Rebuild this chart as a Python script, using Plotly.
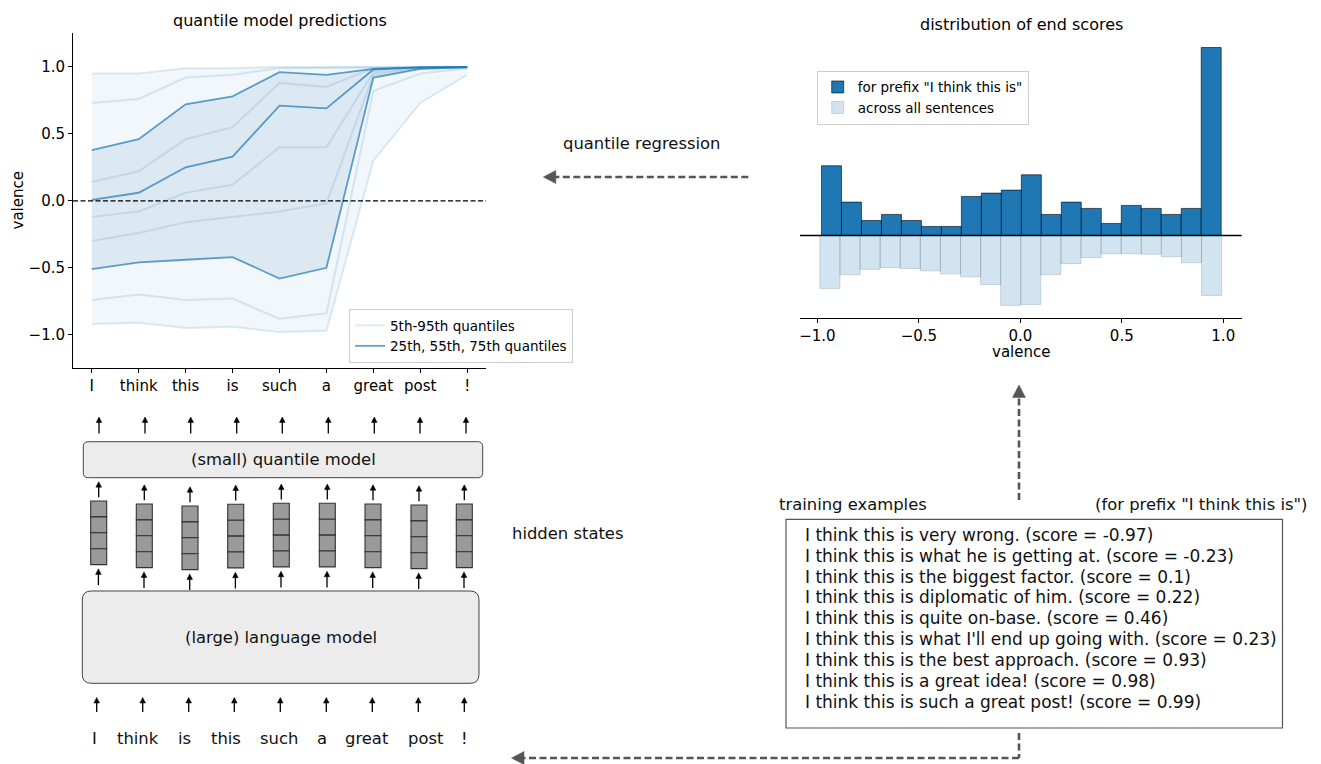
import numpy as np
import plotly.graph_objects as go

W, H = 1321, 764
FONT = "DejaVu Sans"


def X(p):
    return p / W


def Y(p):
    return 1 - p / H


# ---------------- data ----------------
tokens = ["I", "think", "this", "is", "such", "a", "great", "post", "!"]

q05 = [-0.92, -0.91, -0.95, -0.94, -0.98, -0.97, 0.30, 0.73, 0.94]
q15 = [-0.74, -0.70, -0.74, -0.73, -0.88, -0.84, 0.82, 0.95, 0.99]
q25 = [-0.51, -0.46, -0.44, -0.42, -0.58, -0.50, 0.92, 0.985, 0.995]
q35 = [-0.30, -0.24, -0.16, -0.12, -0.08, -0.02, 0.94, 0.99, 0.995]
q45 = [-0.12, -0.08, 0.06, 0.12, 0.40, 0.40, 0.96, 0.99, 0.997]
q55 = [0.007, 0.06, 0.25, 0.33, 0.71, 0.69, 0.98, 0.995, 0.997]
q65 = [0.14, 0.22, 0.46, 0.55, 0.88, 0.85, 0.99, 0.997, 0.998]
q75 = [0.378, 0.46, 0.72, 0.78, 0.96, 0.94, 0.985, 0.996, 1.0]
q85 = [0.73, 0.76, 0.92, 0.94, 0.99, 0.99, 0.995, 0.998, 1.0]
q95 = [0.95, 0.95, 0.99, 0.99, 0.999, 1.0, 1.0, 1.0, 1.0]

# histogram of end scores (20 bins)
prefix_bin_range = (-0.98, 0.99)
prefix_heights = [23.2, 11.1, 5.0, 7.0, 5.0, 3.0, 3.0, 13.0, 14.1, 15.1,
                  20.2, 7.0, 11.1, 9.0, 4.0, 10.0, 9.0, 7.0, 9.0, 62.6]
all_bin_range = (-0.988, 0.992)
all_heights = [17.7, 13.1, 11.3, 10.7, 11.0, 11.8, 12.8, 13.8, 16.4, 23.3,
               23.0, 13.1, 9.4, 7.4, 6.1, 6.1, 6.3, 7.1, 9.1, 20.0]

valence_ticks = [-1.0, -0.5, 0.0, 0.5, 1.0]
valence_ticktext = ["\u22121.0", "\u22120.5", "0.0", "0.5", "1.0"]

examples = [
    "I think this is very wrong.",
    "I think this is what he is getting at.",
    "I think this is the biggest factor.",
    "I think this is diplomatic of him.",
    "I think this is quite on-base.",
    "I think this is what I'll end up going with.",
    "I think this is the best approach.",
    "I think this is a great idea!",
    "I think this is such a great post!",
]
example_scores = [-0.97, -0.23, 0.1, 0.22, 0.46, 0.23, 0.93, 0.98, 0.99]

input_tokens = ["I", "think", "is", "this", "such", "a", "great", "post", "!"]

# ---------------- figure ----------------
fig = go.Figure()
xs = list(range(len(tokens)))
BLUE = "31,119,180"

# fills
fig.add_trace(go.Scatter(x=xs, y=q05, mode="lines", line=dict(width=0),
                         showlegend=False, hoverinfo="skip"))
fig.add_trace(go.Scatter(x=xs, y=q95, mode="lines", line=dict(width=0),
                         fill="tonexty", fillcolor=f"rgba({BLUE},0.06)",
                         showlegend=False, hoverinfo="skip"))
fig.add_trace(go.Scatter(x=xs, y=q25, mode="lines", line=dict(width=0),
                         showlegend=False, hoverinfo="skip"))
fig.add_trace(go.Scatter(x=xs, y=q75, mode="lines", line=dict(width=0),
                         fill="tonexty", fillcolor=f"rgba({BLUE},0.10)",
                         showlegend=False, hoverinfo="skip"))

light = [q05, q15, q35, q45, q65, q85, q95]
for i, q in enumerate(light):
    fig.add_trace(go.Scatter(
        x=xs, y=q, mode="lines",
        line=dict(color=f"rgba({BLUE},0.15)", width=2),
        name="5th-95th quantiles", legendgroup="light",
        showlegend=(i == 0), legend="legend"))
dark = [q25, q55, q75]
for i, q in enumerate(dark):
    fig.add_trace(go.Scatter(
        x=xs, y=q, mode="lines",
        line=dict(color=f"rgba({BLUE},0.7)", width=1.8),
        name="25th, 55th, 75th quantiles", legendgroup="dark",
        showlegend=(i == 0), legend="legend"))

# histogram
def centers(rng, n):
    edges = np.linspace(rng[0], rng[1], n + 1)
    return (edges[:-1] + edges[1:]) / 2, edges[1] - edges[0]

pc, pw = centers(prefix_bin_range, len(prefix_heights))
ac, aw = centers(all_bin_range, len(all_heights))

fig.add_trace(go.Bar(
    x=pc, y=prefix_heights, width=pw, base=0,
    marker=dict(color="#1f77b4", line=dict(color="rgba(0,0,0,0.75)", width=0.8)),
    name='for prefix "I think this is"', xaxis="x2", yaxis="y2",
    legend="legend2"))
fig.add_trace(go.Bar(
    x=ac, y=[-h for h in all_heights], width=aw, base=0,
    marker=dict(color=f"rgba({BLUE},0.2)", line=dict(color="rgba(90,110,130,0.3)", width=0.8)),
    name="across all sentences", xaxis="x2", yaxis="y2",
    legend="legend2"))

axis_common = dict(showgrid=False, zeroline=False, showline=True,
                   linecolor="black", linewidth=1, ticks="outside",
                   ticklen=4, tickwidth=1, tickcolor="black",
                   tickfont=dict(family=FONT, size=15, color="black"))

fig.update_layout(
    width=W, height=H,
    margin=dict(l=0, r=0, t=0, b=0),
    paper_bgcolor="white", plot_bgcolor="white",
    font=dict(family=FONT, color="black"),
    barmode="overlay",
    xaxis=dict(domain=[X(73), X(486)], range=[-0.4, 8.4], anchor="y",
               tickvals=xs, ticktext=tokens, **axis_common),
    yaxis=dict(domain=[Y(368.3), Y(33.3)], range=[-1.25, 1.25], anchor="x",
               tickvals=valence_ticks, ticktext=valence_ticktext, **axis_common),
    xaxis2=dict(domain=[X(800), X(1241.7)], range=[-1.086, 1.091], anchor="y2",
                tickvals=valence_ticks, ticktext=valence_ticktext, **axis_common),
    yaxis2=dict(domain=[Y(318.3), Y(34.6)], range=[-27.6, 66.9], anchor="x2",
                visible=False),
    legend=dict(x=X(349), y=Y(309), xanchor="left", yanchor="top",
                bgcolor="rgba(255,255,255,0.8)", bordercolor="#cccccc",
                borderwidth=1, font=dict(family=FONT, size=13.5, color="black"),
                traceorder="normal", tracegroupgap=0),
    legend2=dict(x=X(816.7), y=Y(70.7), xanchor="left", yanchor="top",
                 bgcolor="rgba(255,255,255,0.8)", bordercolor="#cccccc",
                 borderwidth=1, font=dict(family=FONT, size=13.5, color="black"),
                 traceorder="normal"),
)

shapes = []
annotations = []

# dashed zero line on the left chart
shapes.append(dict(type="line", xref="x domain", yref="y", x0=0, x1=1, y0=0, y1=0,
                   line=dict(color="black", width=1.2, dash="5px,2.5px"), layer="above"))
# baseline in histogram
shapes.append(dict(type="line", xref="x2 domain", yref="y2", x0=0, x1=1, y0=0, y1=0,
                   line=dict(color="black", width=1.4), layer="above"))


def text(x, y, s, size=16.4, xanchor="center", yanchor="middle", angle=0, color="#111"):
    annotations.append(dict(x=X(x), y=Y(y), xref="paper", yref="paper", text=s,
                            showarrow=False, xanchor=xanchor, yanchor=yanchor,
                            textangle=angle,
                            font=dict(family=FONT, size=size, color=color)))


# chart titles & labels
text(280, 20.7, "quantile model predictions", size=16, color="black")
text(17.5, 201, "valence", size=15, angle=-90, color="black")
text(1021, 24, "distribution of end scores", size=16, color="black")
text(1021, 352.3, "valence", size=15, color="black")


def P(x, y):
    return f"{X(x):.6f},{Y(y):.6f}"


def rrect(x0, y0, x1, y1, r, fill, line="#444", lw=1):
    path = (f"M{P(x0 + r, y0)} L{P(x1 - r, y0)} Q{P(x1, y0)} {P(x1, y0 + r)} "
            f"L{P(x1, y1 - r)} Q{P(x1, y1)} {P(x1 - r, y1)} "
            f"L{P(x0 + r, y1)} Q{P(x0, y1)} {P(x0, y1 - r)} "
            f"L{P(x0, y0 + r)} Q{P(x0, y0)} {P(x0 + r, y0)} Z")
    shapes.append(dict(type="path", xref="paper", yref="paper", path=path,
                       fillcolor=fill, line=dict(color=line, width=lw)))


def up_arrow(x, tail, tip, color="black", lw=1.3, hl=5.5, hw=2.8):
    shapes.append(dict(type="line", xref="paper", yref="paper",
                       x0=X(x), x1=X(x), y0=Y(tail), y1=Y(tip + hl - 0.5),
                       line=dict(color=color, width=lw)))
    path = f"M{P(x, tip)} L{P(x - hw, tip + hl)} L{P(x + hw, tip + hl)} Z"
    shapes.append(dict(type="path", xref="paper", yref="paper", path=path,
                       fillcolor=color, line=dict(color=color, width=0.5)))


GREY = "#555555"
DASH = "7px,3.5px"


def dashed(x0, y0, x1, y1):
    shapes.append(dict(type="line", xref="paper", yref="paper",
                       x0=X(x0), x1=X(x1), y0=Y(y0), y1=Y(y1),
                       line=dict(color=GREY, width=2.6, dash=DASH)))


def head(tipx, tipy, direction, hl=12.5, hw=6.5):
    if direction == "left":
        path = f"M{P(tipx, tipy)} L{P(tipx + hl, tipy - hw)} L{P(tipx + hl, tipy + hw)} Z"
    else:  # up
        path = f"M{P(tipx, tipy)} L{P(tipx - hw, tipy + hl)} L{P(tipx + hw, tipy + hl)} Z"
    shapes.append(dict(type="path", xref="paper", yref="paper", path=path,
                       fillcolor=GREY, line=dict(color=GREY, width=0.5)))


# quantile regression arrow
text(641, 144, "quantile regression")
dashed(748.3, 177, 554, 177)
head(543.3, 177, "left")

# vertical arrow up to histogram
dashed(1019, 500, 1019, 396)
head(1019, 385, "up")

# bent arrow back to language model input
dashed(1019, 733, 1019, 758)
dashed(1019, 758, 522, 758)
head(511.5, 758, "left")

# training examples box
shapes.append(dict(type="rect", xref="paper", yref="paper",
                   x0=X(786), x1=X(1282.5), y0=Y(519.3), y1=Y(728),
                   line=dict(color="#555", width=1.2), fillcolor="white"))
text(776.7, 505, "training examples", xanchor="left")
text(1308.5, 505, '(for prefix "I think this is")', xanchor="right")
for i, (ex, sc) in enumerate(zip(examples, example_scores)):
    text(802.5, 535 + i * 20.83, f"{ex} (score = {sc})", xanchor="left", size=17)

# ---------- model diagram ----------
col_x = [98.7, 144.3, 190.0, 235.7, 281.3, 327.3, 373.0, 419.0, 464.3]
col_top = [501.0, 504.0, 506.0, 504.3, 503.3, 503.3, 504.0, 505.0, 504.0]
cell_h = 15.9
cell_w = 16.0

# arrows above small quantile model box
top_arrow_x = [99.0, 145.0, 190.7, 236.7, 282.3, 328.3, 374.3, 420.0, 466.0]
for x in top_arrow_x:
    up_arrow(x, 433.5, 417)

rrect(83.3, 441.7, 482.7, 477.7, 5, "#ececec")
text(283, 459.7, "(small) quantile model")

for x, t in zip(col_x, col_top):
    # arrow into small model
    up_arrow(x, t - 3.7, t - 19.3)
    for k in range(4):
        shapes.append(dict(type="rect", xref="paper", yref="paper",
                           x0=X(x - cell_w / 2), x1=X(x + cell_w / 2),
                           y0=Y(t + k * cell_h), y1=Y(t + (k + 1) * cell_h),
                           fillcolor="#9a9a9a", line=dict(color="#333", width=1.1)))
    bottom = t + 4 * cell_h
    up_arrow(x - 0.3, bottom + 20.5, bottom + 4.3)

text(510, 533, "hidden states", xanchor="left")

rrect(82.3, 591, 479, 683.3, 9, "#ececec")
text(280.7, 637.5, "(large) language model")

bottom_arrow_x = [96.7, 142.7, 188.7, 234.3, 280.3, 326.3, 372.3, 418.3, 464.3]
for x in bottom_arrow_x:
    up_arrow(x, 712, 697.5)

word_x = [94.2, 137.5, 184.8, 225.8, 278.7, 321.5, 367.0, 425.5, 464.5]
for x, w in zip(word_x, input_tokens):
    text(x, 738.3, w)

fig.update_layout(shapes=shapes, annotations=annotations)
fig.write_html("out.html",
               config={"displayModeBar": False},
               post_script="document.body.style.margin='0px';document.body.style.overflow='hidden';")
